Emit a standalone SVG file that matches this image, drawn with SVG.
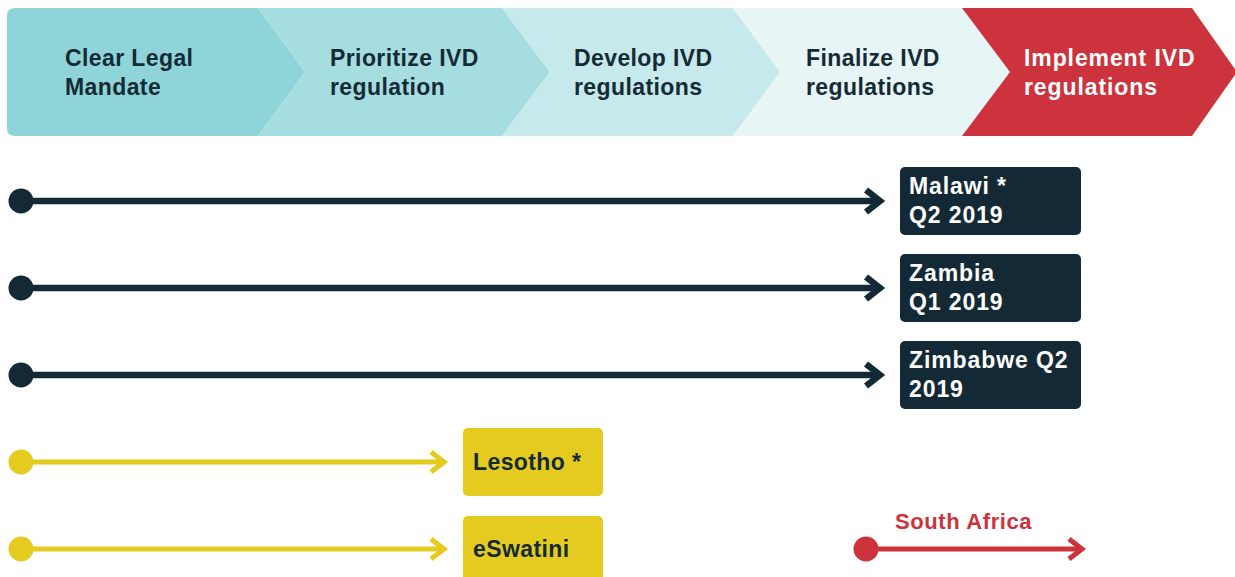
<svg xmlns="http://www.w3.org/2000/svg" width="1235" height="577" viewBox="0 0 1235 577">
<style>
.t{font-family:"Liberation Sans",Arial,sans-serif;font-weight:bold;font-size:23px;letter-spacing:0.4px}
.w{letter-spacing:0.9px}
.dk{fill:#142b36}
.wh{fill:#ffffff}
.dline{stroke:#132a36;stroke-width:6.5;fill:none}
.yline{stroke:#e5cb1f;stroke-width:5;fill:none}
.rline{stroke:#cd333c;stroke-width:5;fill:none}
</style>
<rect width="1235" height="577" fill="#ffffff"/>
<g id="stage1">
<path d="M15,8 H258 L305,72 L258,136 H15 Q7,136 7,128 V16 Q7,8 15,8 Z" fill="#8fd4d8"/>
<text class="t dk" x="65" y="66">Clear Legal</text>
<text class="t dk" x="65" y="95">Mandate</text>
</g>
<g id="stage2">
<path d="M258,8 H502 L550,72 L502,136 H258 L305,72 Z" fill="#a6dde0"/>
<text class="t dk" x="330" y="66">Prioritize IVD</text>
<text class="t dk" x="330" y="95">regulation</text>
</g>
<g id="stage3">
<path d="M502,8 H733 L780,72 L733,136 H502 L550,72 Z" fill="#c6e9eb"/>
<text class="t dk" x="574" y="66">Develop IVD</text>
<text class="t dk" x="574" y="95">regulations</text>
</g>
<g id="stage4">
<path d="M733,8 H962 L1010,72 L962,136 H733 L780,72 Z" fill="#e7f5f6"/>
<text class="t dk" x="806" y="66">Finalize IVD</text>
<text class="t dk" x="806" y="95">regulations</text>
</g>
<g id="stage5">
<path d="M962,8 H1192 L1237,72 L1192,136 H962 L1010,72 Z" fill="#cd333c"/>
<text class="t wh w" x="1024" y="66">Implement IVD</text>
<text class="t wh w" x="1024" y="95">regulations</text>
</g>
<g id="connectors">
<circle cx="21" cy="201" r="12.5" fill="#132a36"/>
<path class="dline" d="M21,201 H878"/>
<path class="dline" d="M866,190 L880,201 L866,212"/>
<circle cx="21" cy="288" r="12.5" fill="#132a36"/>
<path class="dline" d="M21,288 H878"/>
<path class="dline" d="M866,277 L880,288 L866,299"/>
<circle cx="21" cy="375" r="12.5" fill="#132a36"/>
<path class="dline" d="M21,375 H878"/>
<path class="dline" d="M866,364 L880,375 L866,386"/>
<circle cx="21" cy="462" r="12.5" fill="#e5cb1f"/>
<path class="yline" d="M21,462 H443"/>
<path class="yline" d="M431,452 L444,462 L431,472"/>
<circle cx="21" cy="549" r="12.5" fill="#e5cb1f"/>
<path class="yline" d="M21,549 H443"/>
<path class="yline" d="M431,539 L444,549 L431,559"/>
<circle cx="866" cy="549" r="12.5" fill="#cd333c"/>
<path class="rline" d="M866,549 H1081"/>
<path class="rline" d="M1069,539 L1082,549 L1069,559"/>
</g>
<g id="malawi">
<rect x="900" y="167" width="181" height="68" rx="5" fill="#132a36"/>
<text class="t wh w" x="909" y="194">Malawi *</text>
<text class="t wh w" x="909" y="223">Q2 2019</text>
</g>
<g id="zambia">
<rect x="900" y="254" width="181" height="68" rx="5" fill="#132a36"/>
<text class="t wh w" x="909" y="281">Zambia</text>
<text class="t wh w" x="909" y="310">Q1 2019</text>
</g>
<g id="zimbabwe">
<rect x="900" y="341" width="181" height="68" rx="5" fill="#132a36"/>
<text class="t wh w" x="909" y="368">Zimbabwe Q2</text>
<text class="t wh w" x="909" y="397">2019</text>
</g>
<g id="lesotho">
<rect x="463" y="428" width="140" height="68" rx="5" fill="#e5cb1f"/>
<text class="t dk" x="473" y="470">Lesotho *</text>
</g>
<g id="eswatini">
<rect x="463" y="516" width="140" height="70" rx="5" fill="#e5cb1f"/>
<text class="t dk" x="473" y="557">eSwatini</text>
</g>
<g id="southafrica">
<text class="t" x="895" y="529" fill="#cd333c" style="font-size:22px;letter-spacing:0.6px">South Africa</text>
</g>
</svg>
